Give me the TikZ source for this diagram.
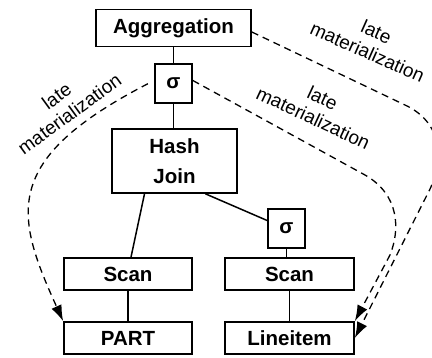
\documentclass[tikz,border=0pt]{standalone}
\usepackage{fontspec}
\setmainfont{Liberation Sans}
\usepackage{tikz}
\usetikzlibrary{arrows.meta,positioning,calc}
\tikzset{
    >={Latex[length=16pt,width=11pt]},
    opbox/.style={
        rectangle,
        draw, line width=1.7pt,
        inner sep=0pt,
        align=center,
        font={\fontsize{20.5pt}{30pt}\selectfont\bfseries}
    },
    edge/.style={draw, line width=1.5pt},
    latemat/.style={draw, ->, line width=1.3pt, dash pattern=on 7pt off 5pt},
    matlabel/.style={align=center, inner sep=0pt, font={\fontsize{19pt}{22pt}\selectfont}},
}
\begin{document}
\begin{tikzpicture}[x=1pt, y=-1pt]
\useasboundingbox (0,0) rectangle (432,358);
\node(agg) at (173.5,28) [opbox, minimum width=155pt, minimum height=37pt]{Aggregation};
\node(sel1) at (173.5,83.5) [opbox, minimum width=37pt, minimum height=39pt]{σ};
\node(join) at (174.5,161) [opbox, minimum width=125pt, minimum height=64pt]{Hash\\Join};
\node(sel2) at (286.5,228.5) [opbox, minimum width=37pt, minimum height=39pt]{σ};
\node(scanl) at (128,274) [opbox, minimum width=128pt, minimum height=32pt]{Scan};
\node(scanr) at (289.5,274) [opbox, minimum width=129pt, minimum height=32pt]{Scan};
\node(part) at (128,338) [opbox, minimum width=128pt, minimum height=32pt]{PART};
\node(lineitem) at (289.5,338) [opbox, minimum width=129pt, minimum height=32pt]{Lineitem};
% plan edges
\draw[edge] (agg) -- (sel1);
\draw[edge] (sel1.south) -- (sel1.south |- join.north);
\draw[edge] ([xshift=-30pt]join.south) -- ([xshift=3pt]scanl.north);
\draw[edge] ([xshift=31pt]join.south) -- ([yshift=8pt]sel2.west);
\draw[edge] (sel2.south) -- (sel2.south |- scanr.north);
\draw[edge] (scanl) -- (part);
\draw[edge] (scanr) -- (lineitem);
% late materialization
\draw[latemat, shorten <=7pt] ([yshift=3pt]sel1.west) .. controls (0,160) and (15,215) .. (part.north west);
\draw[latemat] ([yshift=3pt]sel1.east) -- (365,175) .. controls (400,195) and (400,230) .. (390,255) -- (lineitem.north east);
\draw[latemat] ([yshift=-4pt]agg.east) -- (405,105) .. controls (442,122) and (446,160) .. (427,195) -- (lineitem.east);
\node(lbl1) at (63,105) [matlabel, rotate=36]{late\\materialization};
\node(lbl2) at (318,108) [matlabel, rotate=-25]{late\\materialization};
\node(lbl3) at (372,42) [matlabel, rotate=-24]{late\\materialization};
\end{tikzpicture}
\end{document}
